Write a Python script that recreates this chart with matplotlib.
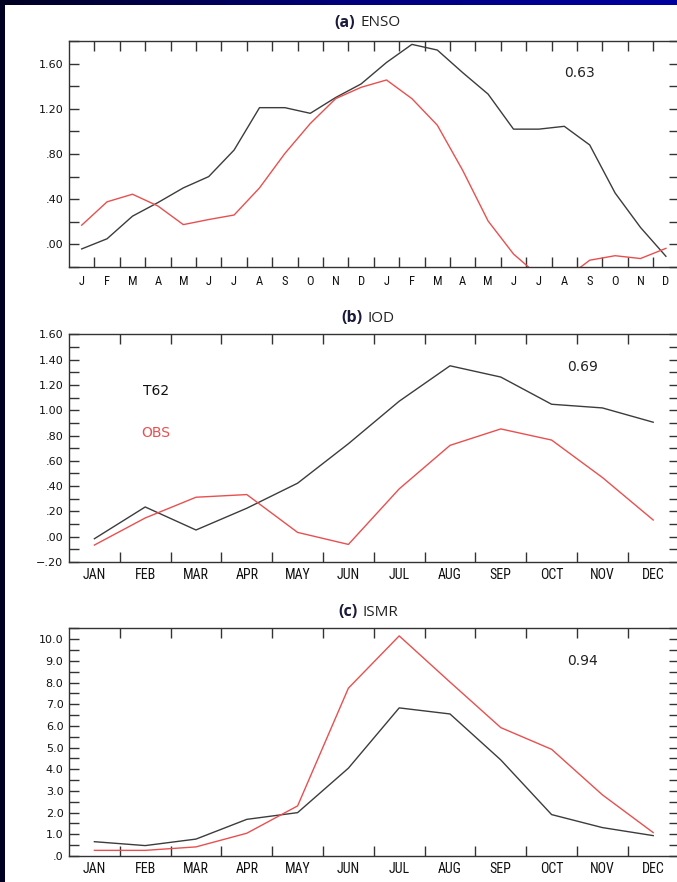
import numpy as np
import matplotlib
matplotlib.use("Agg")
import matplotlib.pyplot as plt
from matplotlib.ticker import FixedLocator
from matplotlib.colors import LinearSegmentedColormap
from matplotlib import font_manager as fm

# ---------------- data ----------------
enso_months = ["J", "F", "M", "A", "M", "J", "J", "A", "S", "O", "N", "D",
               "J", "F", "M", "A", "M", "J", "J", "A", "S", "O", "N", "D"]
enso_t62 = [-0.04, 0.05, 0.25, 0.37, 0.50, 0.60, 0.835, 1.21, 1.21, 1.16, 1.30, 1.42,
            1.61, 1.77, 1.72, 1.52, 1.33, 1.02, 1.02, 1.045, 0.88, 0.455, 0.15, -0.105]
enso_obs = [0.17, 0.377, 0.444, 0.34, 0.175, 0.22, 0.26, 0.50, 0.805, 1.07, 1.29, 1.39,
            1.455, 1.29, 1.055, 0.655, 0.207, -0.085, -0.28, -0.31, -0.14, -0.10, -0.125, -0.035]

months = ["JAN", "FEB", "MAR", "APR", "MAY", "JUN", "JUL", "AUG", "SEP", "OCT", "NOV", "DEC"]
iod_t62 = [-0.016, 0.235, 0.053, 0.225, 0.423, 0.735, 1.071, 1.351, 1.262, 1.047, 1.018, 0.905]
iod_obs = [-0.066, 0.148, 0.312, 0.333, 0.034, -0.061, 0.378, 0.722, 0.852, 0.764, 0.468, 0.132]

ismr_t62 = [0.66, 0.48, 0.78, 1.69, 2.0, 4.05, 6.83, 6.55, 4.43, 1.91, 1.31, 0.94]
ismr_obs = [0.26, 0.26, 0.42, 1.05, 2.31, 7.74, 10.15, 8.02, 5.92, 4.92, 2.82, 1.08]

enso_yticks = [0.0, 0.4, 0.8, 1.2, 1.6]
enso_ylabels = [".00", ".40", ".80", "1.20", "1.60"]
iod_yticks = [-0.2, 0.0, 0.2, 0.4, 0.6, 0.8, 1.0, 1.2, 1.4, 1.6]
iod_ylabels = ["\u2212.20", ".00", ".20", ".40", ".60", ".80", "1.00", "1.20", "1.40", "1.60"]
ismr_yticks = [0, 1, 2, 3, 4, 5, 6, 7, 8, 9, 10]
ismr_ylabels = [".0", "1.0", "2.0", "3.0", "4.0", "5.0", "6.0", "7.0", "8.0", "9.0", "10.0"]

corr = ["0.63", "0.69", "0.94"]
panel_tags = ["(a)", "(b)", "(c)"]
panel_names = ["ENSO", "IOD", "ISMR"]

# ---------------- style ----------------
W, H = 677, 882
BLACK = "#3c3c3c"
RED = "#e8504f"
AX = "#333333"

installed = {f.name for f in fm.fontManager.ttflist}
narrow = [n for n in ["Liberation Sans Narrow", "Roboto Condensed", "IBM Plex Sans Condensed",
                      "Sofia Sans Condensed"] if n in installed] + ["Liberation Sans", "DejaVu Sans"]

fig = plt.figure(figsize=(W / 100, H / 100), dpi=100)
fig.patch.set_facecolor("white")

# dark frame: left strip and top gradient strip
left = fig.add_axes([0, 0, 5 / W, 1])
left.set_axis_off()
left.add_patch(plt.Rectangle((0, 0), 1, 1, color="#000022", transform=left.transAxes))
top = fig.add_axes([0, 1 - 5 / H, 1, 5 / H])
top.set_axis_off()
grad = np.linspace(0, 1, 256)[None, :]
cmap = LinearSegmentedColormap.from_list("b", ["#000022", "#00007a", "#0000a0"])
top.imshow(grad, aspect="auto", cmap=cmap, extent=[0, 1, 0, 1])


def px_rect(left_px, right_px, top_px, bot_px):
    return [left_px / W, 1 - bot_px / H, (right_px - left_px) / W, (bot_px - top_px) / H]


def style(ax, n, xlabels, xfs, ylim, yticks, ylabels, yminor, xpad):
    ax.set_xlim(-0.5, n - 0.5)
    ax.set_ylim(*ylim)
    ax.set_xticks(range(n))
    ax.set_xticklabels(xlabels, family=narrow, fontsize=xfs, color="#111111")
    ax.xaxis.set_minor_locator(FixedLocator(np.arange(0.5, n - 0.5, 1.0)))
    ax.set_yticks(yticks)
    ax.set_yticklabels(ylabels, family="DejaVu Sans", fontsize=8, color="#111111")
    ax.yaxis.set_minor_locator(FixedLocator(yminor))
    ax.tick_params(axis="x", which="major", length=0, pad=xpad)
    ax.tick_params(axis="x", which="minor", direction="in", length=7.2, width=1,
                   color=AX, top=True, bottom=True)
    ax.tick_params(axis="y", which="both", direction="in", length=7.2, width=1,
                   color=AX, left=True, right=True, pad=4)
    for s in ax.spines.values():
        s.set_color(AX)
        s.set_linewidth(1)


# panel (a)
ax1 = fig.add_axes(px_rect(69, 678.6, 41, 267))
x24 = np.arange(len(enso_months))
ax1.plot(x24, enso_t62, color=BLACK, lw=1)
ax1.plot(x24, enso_obs, color=RED, lw=1)
style(ax1, 24, enso_months, 9, (-0.2, 1.8), enso_yticks, enso_ylabels,
      np.arange(-0.2, 1.81, 0.2), 5.5)
ax1.text(19.6, 1.52, corr[0], fontsize=10, family="DejaVu Sans", color="#222222",
         ha="center", va="center")

# panel (b)
ax2 = fig.add_axes(px_rect(69, 678.6, 334.3, 562))
x12 = np.arange(len(months))
ax2.plot(x12, iod_t62, color=BLACK, lw=1)
ax2.plot(x12, iod_obs, color=RED, lw=1)
style(ax2, 12, months, 10, (-0.2, 1.6), iod_yticks, iod_ylabels,
      np.arange(-0.2, 1.61, 0.1), 4.5)
ax2.text(9.6, 1.34, corr[1], fontsize=10, family="DejaVu Sans", color="#222222",
         ha="center", va="center")
ax2.text(1.21, 1.15, "T62", fontsize=10, family="DejaVu Sans", color="#111111",
         ha="center", va="center")
ax2.text(1.21, 0.82, "OBS", fontsize=10, family="DejaVu Sans", color=RED,
         ha="center", va="center")

# panel (c)
ax3 = fig.add_axes(px_rect(69, 678.6, 628.3, 856))
ax3.plot(x12, ismr_t62, color=BLACK, lw=1)
ax3.plot(x12, ismr_obs, color=RED, lw=1)
style(ax3, 12, months, 10, (0, 10.5), ismr_yticks, ismr_ylabels,
      np.arange(0, 10.51, 0.5), 4.5)
ax3.text(9.6, 9.0, corr[2], fontsize=10, family="DejaVu Sans", color="#222222",
         ha="center", va="center")

# titles
title_y = [23, 318, 612]
tag_right = [355, 362.7, 357.5]
for tag, name, ty, tr in zip(panel_tags, panel_names, title_y, tag_right):
    fig.text(tr / W, 1 - ty / H, tag, family=["Open Sans", "DejaVu Sans"], weight="bold",
             fontsize=11.5, color="#1a1a3a", ha="right", va="center")
    fig.text((tr + 5) / W, 1 - ty / H, name, family=["Open Sans", "DejaVu Sans"],
             fontsize=11, color="#222222", ha="left", va="center")

fig.savefig("out.png", dpi=100)
